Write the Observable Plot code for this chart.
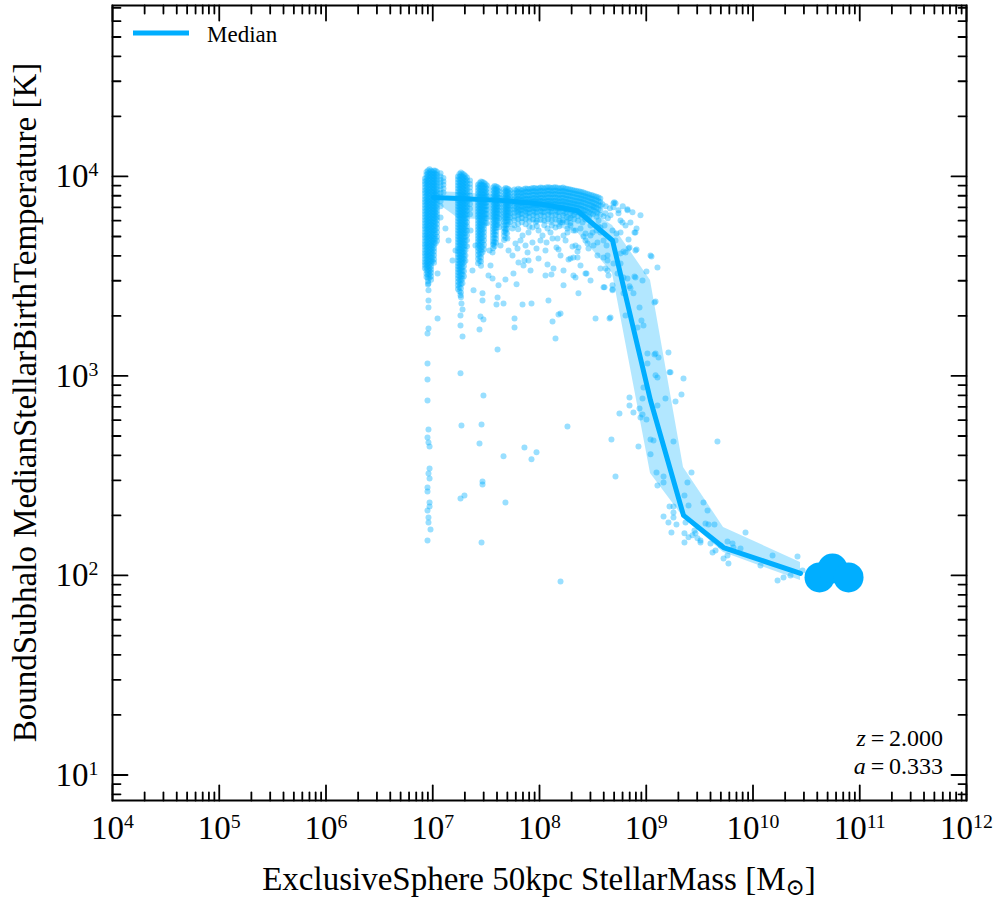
<!DOCTYPE html>
<html><head><meta charset="utf-8">
<script src="https://cdn.jsdelivr.net/npm/d3@7"></script>
<script src="https://cdn.jsdelivr.net/npm/@observablehq/plot@0.6"></script>
<style>body{margin:0;background:#fff}</style>
</head><body><div id="chart"></div>
<script>
// ---------- data (log10 values) ----------
const xTickExp = [4, 5, 6, 7, 8, 9, 10, 11, 12];
const yTickExp = [1, 2, 3, 4];
const xLabelText = "ExclusiveSphere 50kpc StellarMass [M";
const yLabelText = "BoundSubhalo MedianStellarBirthTemperature [K]";
const legendText = "Median";
const redshiftText = "2.000";
const scaleFactorText = "0.333";

// median line and percentile band
const medLogM = [7.007, 7.241, 7.635, 8.009, 8.356, 8.684, 9.040, 9.349, 9.724, 10.445];
const medLogT = [3.895, 3.890, 3.880, 3.862, 3.828, 3.679, 2.877, 2.301, 2.140, 2.010];
const loLogT  = [3.880, 3.789, 3.779, 3.769, 3.719, 3.514, 2.511, 2.291, 2.115, 1.975];
const hiLogT  = [3.925, 3.920, 3.905, 3.890, 3.865, 3.754, 3.479, 2.541, 2.241, 2.065];

// most massive objects (large markers)
const bigLogM = [10.623, 10.745, 10.895];
const bigLogT = [1.990, 2.035, 1.990];

// dense columns: log10 mass, and log10 temperature in thousandths
const colLogM = [6.927, 6.955, 6.984, 7.012, 7.040, 7.073, 7.100,
  7.236, 7.264, 7.292, 7.321, 7.349,
  7.424, 7.452, 7.480, 7.508,
  7.565, 7.593, 7.621,
  7.668, 7.696, 7.724,
  7.765, 7.800, 7.835, 7.870, 7.905, 7.940, 7.975, 8.010, 8.045, 8.080, 8.115, 8.150,
  8.185, 8.220, 8.255, 8.290, 8.325, 8.360, 8.395, 8.430, 8.465, 8.500, 8.535, 8.570,
  6.941, 6.970, 6.998, 7.026, 7.250, 7.278, 7.306, 7.438, 7.466, 7.494, 7.579, 7.607, 7.682, 7.710,
  7.783, 7.818, 7.853, 7.888, 7.923, 7.958, 7.993, 8.028, 8.063, 8.098, 8.133, 8.168,
  8.203, 8.238, 8.273, 8.308, 8.343, 8.378, 8.413, 8.448, 8.483, 8.518, 8.553];
const colLogT = [
  "3990 3975 3961 3945 3930 3916 3900 3885 3871 3855 3840 3826 3810 3795 3781 3765 3750 3736 3720 3705 3691 3675 3660 3646 3630 3615 3601 3585 3570 3556 3540",
  "4030 4015 4001 3985 3970 3956 3940 3925 3911 3895 3880 3866 3850 3835 3821 3805 3790 3776 3760 3745 3731 3715 3700 3686 3670 3655 3641 3625 3610 3596 3580 3565 3551 3535 3520 3506 3490 3475 3458",
  "4028 4013 3998 3983 3968 3953 3938 3923 3908 3893 3878 3863 3848 3833 3818 3803 3788 3773 3758 3743 3728 3713 3698 3683 3668 3653 3638 3623 3608 3593 3578 3563 3548 3533 3518 3500 3482",
  "4030 4016 4000 3986 3970 3956 3940 3926 3910 3896 3880 3866 3850 3836 3820 3806 3790 3776 3760 3746 3730 3716 3700 3686 3670 3656 3640 3624 3605 3585 3568",
  "4022 4007 3992 3977 3962 3947 3932 3917 3902 3887 3872 3857 3842 3827 3812 3797 3780 3762 3742 3720 3698 3678",
  "4016 4000 3984 3968 3952 3936 3918 3898 3875 3850",
  "3992 3975 3958 3940 3920",
  "4000 3985 3970 3955 3940 3925 3910 3895 3880 3865 3850 3835 3820 3805 3790 3775 3760 3745 3730 3715 3700 3685 3670 3655 3640 3625 3610 3595 3580 3565 3550 3535 3520 3505 3490 3472 3455 3436",
  "4020 4005 3990 3975 3960 3945 3930 3915 3900 3885 3870 3855 3840 3825 3810 3795 3780 3765 3750 3735 3720 3705 3690 3675 3660 3645 3630 3615 3600 3585 3570 3555 3540 3525 3510 3494 3478 3460 3440 3418 3395",
  "4010 3995 3980 3965 3950 3935 3920 3905 3890 3875 3860 3845 3830 3815 3800 3785 3770 3755 3740 3725 3710 3695 3680 3665 3650 3635 3620 3604 3588 3570 3550 3525 3500",
  "3995 3980 3965 3950 3935 3920 3905 3890 3875 3860 3845 3828 3810 3790 3770 3750 3728 3705 3680 3650",
  "3980 3962 3944 3925 3905 3885 3862 3838 3810",
  "3958 3943 3928 3913 3898 3883 3868 3853 3838 3823 3808 3793 3778 3763 3748 3733 3718 3703 3688 3673 3658 3643 3626 3608 3588 3565",
  "3975 3960 3945 3930 3915 3900 3885 3870 3855 3840 3825 3810 3795 3780 3765 3750 3735 3720 3705 3690 3675 3660 3645 3630 3612 3594 3574 3552",
  "3968 3953 3938 3923 3908 3893 3878 3863 3848 3833 3818 3803 3788 3772 3755 3738 3720 3700 3680 3658 3635",
  "3955 3938 3921 3904 3887 3870 3852 3833 3812 3790 3765",
  "3945 3930 3915 3900 3885 3870 3855 3840 3825 3810 3795 3780 3765 3750 3735 3720 3705 3690 3675 3658 3640",
  "3950 3935 3920 3905 3890 3875 3860 3845 3830 3815 3800 3785 3770 3755 3740 3724 3706 3688 3668",
  "3940 3924 3908 3892 3876 3860 3844 3828 3810 3790 3768 3745",
  "3935 3920 3905 3890 3875 3860 3845 3830 3815 3800 3785 3770 3755 3740 3722 3703 3682",
  "3940 3925 3910 3895 3880 3865 3850 3835 3820 3805 3790 3774 3756 3736 3715",
  "3930 3914 3898 3882 3866 3850 3833 3815 3795 3772",
  "3935 3918 3902 3885 3868 3852 3835 3818 3800 3780 3755",
  "3938 3922 3905 3888 3872 3855 3838 3822 3805 3785 3762 3735",
  "3930 3914 3897 3880 3864 3847 3830 3812 3792 3770",
  "3940 3924 3907 3890 3874 3857 3840 3824 3806 3786 3760",
  "3936 3920 3903 3886 3870 3853 3836 3818 3798 3775 3748",
  "3942 3926 3909 3892 3876 3859 3842 3825 3806 3784",
  "3938 3921 3905 3888 3871 3855 3838 3820 3800 3778 3752",
  "3944 3928 3911 3894 3878 3861 3844 3826 3806 3782",
  "3940 3923 3907 3890 3873 3857 3840 3822 3802 3779 3755",
  "3946 3930 3913 3896 3880 3863 3846 3828 3808 3785",
  "3942 3925 3909 3892 3875 3859 3842 3824 3804 3780 3754",
  "3946 3929 3913 3896 3879 3863 3846 3828 3807 3784",
  "3940 3924 3907 3890 3874 3857 3840 3822 3801 3778 3750",
  "3944 3927 3911 3894 3877 3861 3844 3825 3804 3780",
  "3938 3922 3905 3888 3872 3855 3838 3819 3797 3772",
  "3935 3918 3902 3885 3868 3852 3834 3815 3792 3766",
  "3930 3914 3897 3880 3864 3847 3829 3808 3785",
  "3926 3910 3893 3876 3860 3842 3823 3802 3778",
  "3922 3905 3888 3872 3855 3837 3817 3795",
  "3916 3900 3883 3866 3848 3830 3808 3784",
  "3910 3893 3876 3858 3840 3820 3797",
  "3904 3887 3870 3852 3832 3810",
  "3898 3880 3862 3843 3822 3798",
  "3890 3872 3853 3832 3808",
  "4022 4008 3993 3978 3963 3948 3933 3918 3903 3888 3873 3858 3843 3828 3813 3798 3783 3768 3753 3738 3723 3708 3693 3678 3663 3648 3633 3618 3603 3588 3573 3558 3543 3528 3512 3496",
  "4036 4021 4006 3991 3976 3961 3946 3931 3916 3901 3886 3871 3856 3841 3826 3811 3796 3781 3766 3751 3736 3721 3706 3691 3676 3661 3646 3631 3616 3601 3586 3571 3556 3541 3526 3510 3492",
  "4023 4008 3993 3978 3963 3948 3933 3918 3903 3888 3873 3858 3843 3828 3813 3798 3783 3768 3753 3738 3723 3708 3693 3678 3663 3648 3632 3614 3595 3575",
  "4028 4013 3998 3983 3968 3953 3938 3923 3908 3893 3878 3863 3848 3833 3818 3803 3788 3770 3752 3732 3710 3688 3665",
  "4012 3997 3982 3967 3952 3937 3922 3907 3892 3877 3862 3847 3832 3817 3802 3787 3772 3757 3742 3727 3712 3697 3682 3667 3652 3637 3622 3607 3592 3577 3562 3547 3532 3517 3500 3482 3464 3445 3425",
  "4013 3998 3983 3968 3953 3938 3923 3908 3893 3878 3863 3848 3833 3818 3803 3788 3773 3758 3743 3728 3713 3698 3683 3668 3653 3638 3623 3608 3593 3578 3562 3545 3527 3508 3487 3465",
  "4002 3987 3972 3957 3942 3927 3912 3897 3882 3867 3852 3837 3822 3807 3792 3777 3762 3747 3732 3716 3698 3678 3655 3630 3604 3578",
  "3967 3952 3937 3922 3907 3892 3877 3862 3847 3832 3817 3802 3787 3772 3757 3742 3727 3712 3697 3682 3667 3652 3635 3617 3598 3576",
  "3972 3957 3942 3927 3912 3897 3882 3867 3852 3837 3822 3807 3792 3777 3762 3747 3730 3712 3692 3670 3646 3620",
  "3962 3946 3930 3914 3898 3882 3866 3850 3832 3812 3790 3766",
  "3952 3937 3922 3907 3892 3877 3862 3847 3832 3817 3802 3787 3772 3757 3742 3726 3710 3692 3672 3650",
  "3946 3930 3914 3898 3882 3866 3850 3834 3817 3798 3778 3756",
  "3942 3927 3912 3897 3882 3867 3852 3837 3822 3807 3792 3776 3758 3738 3716 3692",
  "3936 3920 3904 3888 3872 3856 3840 3823 3804 3783 3760",
  "3930 3914 3897 3880 3863 3846 3828",
  "3934 3918 3901 3884 3867 3850 3832 3812",
  "3936 3920 3903 3886 3869 3852 3834",
  "3938 3922 3905 3888 3871 3854 3836 3815",
  "3940 3924 3907 3890 3873 3856 3838",
  "3942 3926 3909 3892 3875 3858 3840 3818",
  "3941 3925 3908 3891 3874 3857 3839",
  "3943 3927 3910 3893 3876 3859 3841 3820",
  "3944 3928 3911 3894 3877 3860 3842",
  "3945 3929 3912 3895 3878 3861 3843 3822",
  "3944 3928 3911 3894 3877 3860 3842",
  "3943 3927 3910 3893 3876 3859 3841 3820",
  "3942 3926 3909 3892 3875 3858 3840",
  "3940 3924 3907 3890 3873 3856 3837 3815",
  "3936 3920 3903 3886 3869 3852 3833",
  "3932 3916 3899 3882 3865 3848 3828 3806",
  "3928 3912 3895 3878 3861 3843 3822",
  "3924 3908 3891 3874 3857 3838 3816",
  "3919 3903 3886 3869 3851 3832 3810",
  "3913 3897 3880 3862 3844 3824",
  "3907 3890 3873 3855 3836 3814",
  "3901 3884 3866 3847 3826",
  "3894 3876 3857 3837"
];

// individual scattered objects (logM, logT)
const sparse = [
  [7.607,3.133],[8.150,3.188],[8.178,3.308],[8.122,3.273],[8.084,3.378],[7.925,3.363],[7.841,3.358],[7.766,3.288],
  [7.766,3.243],[7.663,3.363],[7.597,3.358],[7.607,3.393],[7.466,3.414],[7.466,3.378],[7.447,3.298],[7.438,3.233],
  [7.475,3.283],[7.279,3.198],[7.260,3.253],[7.260,3.303],[7.279,3.333],[7.269,3.363],[7.260,3.404],[7.045,3.288],
  [6.960,3.238],[6.951,3.213],[6.960,3.343],[6.960,3.378],[7.045,3.514],[7.073,3.794],[6.960,3.464],[6.960,3.429],
  [7.560,3.489],[7.616,3.454],[7.681,3.484],[7.785,3.459],[7.850,3.554],[7.859,3.579],[7.756,3.514],[7.897,3.579],
  [8.112,3.509],[8.131,3.539],[8.075,3.559],[8.178,3.634],[8.272,3.584],[8.318,3.594],[8.318,3.504],[8.337,3.494],
  [8.431,3.514],[8.525,3.288],[8.656,3.288],[8.609,3.444],[8.684,3.434],[8.637,3.529],[8.571,3.539],[8.543,3.604],
  [8.600,3.594],[8.646,3.504],[8.731,3.514],[8.787,3.414],[8.843,3.449],[8.880,3.414],[8.937,3.343],[8.955,3.278],
  [8.974,3.253],[8.890,3.499],[9.002,3.524],[9.105,3.544],[9.049,3.599],[8.909,3.634],[8.843,3.644],[8.834,3.684],
  [8.759,3.779],[8.824,3.830],[8.871,3.820],[8.890,3.719],[8.693,3.865],[8.590,3.860],[9.077,3.368],[9.087,3.113],
  [9.208,3.118],[8.918,3.243],[7.972,3.639],[8.066,3.669],[8.122,3.689],[8.169,3.689],[8.028,3.704],[8.262,3.719],
  [8.318,3.729],[8.403,3.769],[8.450,3.789],[8.543,3.815],[8.571,3.744],[8.431,3.679],[8.459,3.639],[8.309,3.649],
  [8.478,3.704],[7.934,3.669],[7.841,3.704],[7.775,3.664],[7.700,3.689],[7.635,3.654],[7.569,3.664],[7.560,3.619],
  [7.710,3.629],[7.794,3.639],[7.869,3.654],[7.888,3.619],[7.934,3.744],[7.991,3.729],[8.075,3.739],[8.150,3.744],
  [8.215,3.769],[8.272,3.789],
  [6.951,3.063],[6.951,2.982],[6.951,2.877],[6.960,2.732],[6.951,2.692],[6.960,2.667],[6.970,2.647],[6.970,2.536],
  [6.960,2.511],[6.970,2.486],[6.951,2.441],[6.951,2.421],[6.970,2.366],[6.970,2.346],[6.951,2.326],[6.960,2.291],
  [6.960,2.266],[6.979,2.231],[6.951,2.175],[7.260,3.013],[7.269,2.752],[7.260,2.386],[7.297,2.401],[7.475,2.902],
  [7.457,2.757],[7.438,2.662],[7.466,2.471],[7.466,2.456],[7.457,2.165],[7.663,2.597],[7.681,2.366],[7.859,2.642],
  [7.925,2.582],[7.972,2.617],[8.262,2.747],[8.197,1.970],[8.674,2.682],[8.712,2.496],[8.749,2.812],[8.843,2.892],
  [8.843,2.852],[8.880,2.817],[8.937,2.837],[8.946,2.792],[8.965,2.807],[9.002,2.782],[8.927,2.647],[9.011,3.063],
  [9.077,3.108],[9.115,3.093],[9.218,3.018],[9.105,2.992],[9.349,2.987],[9.330,2.907],[9.274,2.872],[9.180,2.887],
  [9.105,2.852],[8.965,2.887],[8.974,2.942],[9.040,2.682],[9.068,2.677],[9.255,2.672],[9.040,2.607],[9.096,2.516],
  [9.162,2.496],[9.162,2.466],[9.105,2.451],[9.424,2.516],[9.386,2.466],[9.358,2.401],[9.218,2.346],[9.255,2.346],
  [9.162,2.296],[9.255,2.316],[9.255,2.291],[9.208,2.266],[9.283,2.256],[9.236,2.216],[9.358,2.211],[9.358,2.165],
  [9.396,2.351],
  [9.667,2.672],[9.536,2.366],[9.574,2.326],[9.396,2.191],[9.433,2.201],[9.461,2.211],[9.480,2.186],[9.508,2.175],
  [9.555,2.261],[9.583,2.256],[9.639,2.256],[9.508,2.165],[9.602,2.160],[9.621,2.115],[9.649,2.125],[9.696,2.150],
  [9.761,2.170],[9.808,2.160],[9.817,2.140],[9.761,2.100],[9.770,2.060],[9.724,2.085],[9.883,2.135],[9.930,2.216],
  [10.070,2.050],[10.183,2.100],[10.230,1.975],[10.286,1.990],[10.351,2.000],[10.417,2.095],[10.464,2.025],
  [9.368,2.266],[9.452,2.226],
  [8.824,3.835],[8.899,3.719],[8.777,3.769],[8.712,3.865],[8.693,3.845],[8.618,3.815],[8.506,3.845],[8.899,3.629],
  [8.834,3.639],[8.787,3.624],[8.759,3.614],[8.637,3.579],[8.618,3.539],[8.637,3.604],[8.693,3.564],[8.759,3.564],
  [8.787,3.494],[8.899,3.494],[8.965,3.479],[8.852,3.439],[8.684,3.454],[8.684,3.429],[8.600,3.444],[8.824,3.489],
  [8.806,3.303],[8.665,3.293],[8.365,3.414],[8.440,3.514],[8.356,3.594],[8.290,3.589],[8.225,3.529],[8.197,3.313],
  [8.356,3.624],[8.365,3.644],[8.450,3.664],[8.543,3.669],[8.600,3.679],[8.712,3.679],[8.721,3.714],[8.571,3.719],
  [8.497,3.719],[8.431,3.714],[8.337,3.729],[8.262,3.739],[8.225,3.704],[8.806,3.619],[9.011,3.113],[9.087,3.003],
  [9.040,3.604],[9.087,3.373],[9.227,3.018],
  [8.62,3.85],[8.66,3.84],[8.70,3.87],[8.74,3.83],[8.78,3.85],[8.60,3.80],[8.64,3.79],[8.55,3.75],
  [7.681,3.729],[7.747,3.739],[7.822,3.679],[7.897,3.719],[7.963,3.769],[8.009,3.679],[8.056,3.629],[8.103,3.719],
  [8.159,3.644],[8.197,3.769],[8.244,3.679],[8.290,3.754],[8.337,3.654],[8.384,3.739],[8.412,3.699],[8.478,3.754],
  [8.506,3.654],[8.534,3.729],[8.553,3.779],[8.609,3.754],[8.628,3.654],[8.665,3.805],[8.684,3.729],[8.740,3.815],
  [8.759,3.719],[8.806,3.754],[8.852,3.769],[8.909,3.739],[8.946,3.805],[7.747,3.604],[7.803,3.569],[7.916,3.529],
  [7.991,3.589],[8.056,3.504],[8.197,3.604],[8.225,3.454],[8.384,3.554],[8.478,3.479],[7.354,3.729],[7.400,3.654],
  [7.532,3.629],[7.541,3.554],[7.372,3.529],[7.213,3.629],[7.148,3.679],[7.119,3.739],[7.185,3.579],[7.382,3.429],
  [7.522,3.504]
];

// ---------- build tables ----------
const COLOR = "#00aeff";
const points = [];
colLogM.forEach((m, i) => colLogT[i].split(" ").forEach(t => points.push({m: 10 ** m, t: 10 ** (+t / 1000)})));
sparse.forEach(([m, t]) => points.push({m: 10 ** m, t: 10 ** t}));
const median = medLogM.map((m, i) => ({m: 10 ** m, t: 10 ** medLogT[i], lo: 10 ** loLogT[i], hi: 10 ** hiLogT[i]}));
const big = bigLogM.map((m, i) => ({m: 10 ** m, t: 10 ** bigLogT[i]}));

const majorX = xTickExp.map(e => 10 ** e);
const minorX = [];
xTickExp.slice(0, -1).forEach(e => { for (let k = 2; k <= 9; k++) minorX.push(k * 10 ** e); });
const yDomain = [7.45, 71900];
const majorY = yTickExp.map(e => 10 ** e);
const minorY = [];
[0, 1, 2, 3, 4].forEach(e => { for (let k = 2; k <= 9; k++) { const v = k * 10 ** e; if (v > yDomain[0] && v < yDomain[1]) minorY.push(v); } });

const W = 996, H = 900, ML = 112, MR = 30, MT = 5, MB = 100;
const FONT = "Liberation Serif, Times New Roman, DejaVu Serif, serif";
const fmt = d => "10^" + Math.round(Math.log10(d));

// inward tick marks on all four sides
const tickShape = {draw(context, l) { context.moveTo(0, 0); context.lineTo(0, -l); }};
function ticks(values, dim, len) {
  const base = {length: len, anchor: "start", shape: tickShape, stroke: "black", strokeWidth: 1.8};
  return dim === "x"
    ? [Plot.vector(values, {...base, x: d => d, frameAnchor: "bottom", rotate: 0}),
       Plot.vector(values, {...base, x: d => d, frameAnchor: "top", rotate: 180})]
    : [Plot.vector(values, {...base, y: d => d, frameAnchor: "left", rotate: 90}),
       Plot.vector(values, {...base, y: d => d, frameAnchor: "right", rotate: -90})];
}

const chart = Plot.plot({
  width: W, height: H,
  marginLeft: ML, marginRight: MR, marginTop: MT, marginBottom: MB,
  style: {fontFamily: FONT, background: "white", color: "black"},
  x: {type: "log", domain: [1e4, 1e12]},
  y: {type: "log", domain: yDomain},
  marks: [
    Plot.areaY(median, {x: "m", y1: "lo", y2: "hi", fill: COLOR, fillOpacity: 0.3}),
    Plot.dot(points, {x: "m", y: "t", r: 3, fill: COLOR, fillOpacity: 0.4, stroke: "none"}),
    Plot.line(median, {x: "m", y: "t", stroke: COLOR, strokeWidth: 5, strokeLinejoin: "round"}),
    Plot.dot(big, {x: "m", y: "t", r: 15, fill: COLOR, stroke: "none"}),
    ...ticks(majorX, "x", 15), ...ticks(minorX, "x", 8),
    ...ticks(majorY, "y", 15), ...ticks(minorY, "y", 8),
    Plot.axisX(majorX, {anchor: "bottom", tickSize: 0, tickPadding: 15, tickFormat: fmt, fontSize: 33, label: null, fill: "black"}),
    Plot.axisY(majorY, {anchor: "left", tickSize: 0, tickPadding: 14, tickFormat: fmt, fontSize: 33, label: null, fill: "black"}),
    Plot.frame({stroke: "black", strokeWidth: 2})
  ]
});

const svgNS = "http://www.w3.org/2000/svg";
// superscript exponents in tick labels
chart.querySelectorAll("text").forEach(t => {
  const s = t.textContent;
  if (s.includes("^")) {
    const [b, e] = s.split("^");
    t.textContent = b;
    const ts = document.createElementNS(svgNS, "tspan");
    ts.setAttribute("font-size", "0.6em");
    ts.setAttribute("dy", "-0.55em");
    ts.textContent = e;
    t.appendChild(ts);
  }
});

const svg = d3.select(chart);
const cx = (ML + W - MR) / 2, cy = (MT + H - MB) / 2;
// x label
const xl = svg.append("text").attr("x", cx).attr("y", 890).attr("text-anchor", "middle")
  .attr("font-family", FONT).attr("font-size", 33).attr("fill", "black");
xl.append("tspan").text(xLabelText);
xl.append("tspan").attr("font-size", "0.7em").attr("dy", "5").text("\u2299");
xl.append("tspan").attr("dy", "-5").text("]");
// y label
svg.append("text").attr("transform", `translate(36,${cy}) rotate(-90)`).attr("text-anchor", "middle")
  .attr("font-family", FONT).attr("font-size", 33).attr("fill", "black").text(yLabelText);
// legend
svg.append("line").attr("x1", 133).attr("x2", 189).attr("y1", 33).attr("y2", 33)
  .attr("stroke", COLOR).attr("stroke-width", 5);
svg.append("text").attr("x", 207).attr("y", 42).attr("text-anchor", "start").attr("font-family", FONT).attr("font-size", 23)
  .attr("fill", "black").text(legendText);
// redshift annotation
const ann = [["z", redshiftText, 746], ["a", scaleFactorText, 774]];
ann.forEach(([v, val, y]) => {
  const t = svg.append("text").attr("x", 943).attr("y", y).attr("text-anchor", "end")
    .attr("font-family", FONT).attr("font-size", 24).attr("fill", "black");
  t.append("tspan").attr("font-style", "italic").text(v);
  t.append("tspan").text("\u2009=\u2009" + val);
});

document.getElementById("chart").appendChild(chart);
</script>
</body></html>
